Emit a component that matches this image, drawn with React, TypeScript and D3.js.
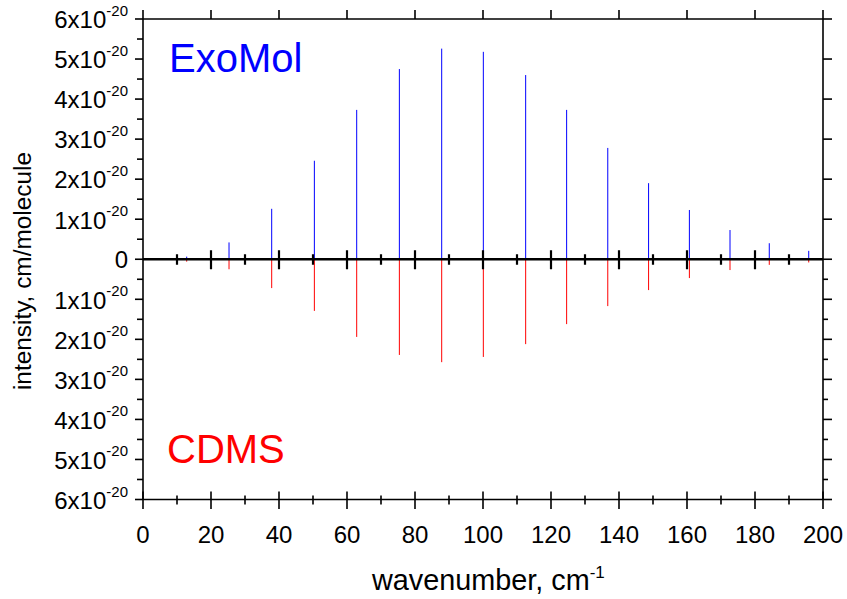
import React from "react";
import * as d3 from "d3";

const wavenumbers = [12.85, 25.3, 37.85, 50.4, 62.85, 75.4, 87.85, 100.1, 112.55, 124.6, 136.7, 148.7, 160.7, 172.65, 184.2, 195.8];
const exomol = [0.065, 0.42, 1.26, 2.46, 3.73, 4.75, 5.26, 5.18, 4.6, 3.73, 2.78, 1.9, 1.23, 0.73, 0.4, 0.21];
const cdms = [0.06, 0.25, 0.72, 1.29, 1.94, 2.39, 2.57, 2.44, 2.12, 1.62, 1.17, 0.77, 0.47, 0.27, 0.14, 0.08];
const xTicks = [0, 20, 40, 60, 80, 100, 120, 140, 160, 180, 200];
const xMinor = [10, 30, 50, 70, 90, 110, 130, 150, 170, 190];
const yTicks = [-6, -5, -4, -3, -2, -1, 0, 1, 2, 3, 4, 5, 6];
const yMinor = [-5.5, -4.5, -3.5, -2.5, -1.5, -0.5, 0.5, 1.5, 2.5, 3.5, 4.5, 5.5];

const FONT = "'Liberation Sans', Arial, sans-serif";

export default function App() {
  const W = 847, H = 599;
  const x = d3.scaleLinear().domain([0, 200]).range([143, 823]);
  const y = d3.scaleLinear().domain([-6, 6]).range([499.5, 19]);
  const y0 = y(0);
  const L = 143, R = 823, T = 19, B = 499.5;
  return (
    <svg width={W} height={H} style={{ position: "absolute", left: 0, top: 0, background: "#fff" }} fontFamily={FONT}>
      <rect x={0} y={0} width={W} height={H} fill="#fff" />
      {/* data lines */}
      {wavenumbers.map((w, i) => (
        <line key={"b" + i} x1={x(w)} x2={x(w)} y1={y0} y2={y(exomol[i])} stroke="#0000ff" strokeWidth={1} />
      ))}
      {wavenumbers.map((w, i) => (
        <line key={"r" + i} x1={x(w)} x2={x(w)} y1={y0} y2={y(-cdms[i])} stroke="#ff0000" strokeWidth={1} />
      ))}
      {/* frame */}
      <g stroke="#000" strokeWidth={1.6} fill="none">
        <line x1={L} x2={R} y1={T} y2={T} />
        <line x1={L} x2={R} y1={B} y2={B} />
        <line x1={L} x2={L} y1={T} y2={B} />
        <line x1={R} x2={R} y1={T} y2={B} />
        <line x1={L} x2={R} y1={y0} y2={y0} strokeWidth={2.4} />
      </g>
      {/* axis ticks */}
      <g stroke="#000" strokeWidth={1.6}>
        {yTicks.map((v) => <line key={"lt" + v} x1={L - 8} x2={L} y1={y(v)} y2={y(v)} />)}
        {yMinor.map((v) => <line key={"lm" + v} x1={L - 6} x2={L} y1={y(v)} y2={y(v)} />)}
        {yTicks.map((v) => <line key={"rt" + v} x1={R} x2={R + 9} y1={y(v)} y2={y(v)} />)}
        {yMinor.filter((v) => v < 0).map((v) => <line key={"rm" + v} x1={R} x2={R + 5} y1={y(v)} y2={y(v)} />)}
        {xTicks.map((v) => <line key={"tt" + v} x1={x(v)} x2={x(v)} y1={T - 9} y2={T} />)}
        {xTicks.map((v) => <line key={"bt" + v} x1={x(v)} x2={x(v)} y1={B - 8} y2={B + 9.5} />)}
        {xMinor.map((v) => <line key={"bm" + v} x1={x(v)} x2={x(v)} y1={B - 4} y2={B + 5} />)}
      </g>
      {/* zero line ticks */}
      <g stroke="#000" strokeWidth={2.2}>
        {xTicks.filter((v) => v > 0 && v < 200).map((v) => <line key={"zt" + v} x1={x(v)} x2={x(v)} y1={y0 - 9} y2={y0 + 10} />)}
        {xMinor.map((v) => <line key={"zm" + v} x1={x(v)} x2={x(v)} y1={y0 - 5} y2={y0 + 5.5} />)}
      </g>
      {/* y tick labels */}
      <g fontSize={24} fill="#000" textAnchor="end">
        {yTicks.map((v) =>
          v === 0 ? (
            <text key={"yl" + v} x={128} y={y(v) + 9}>0</text>
          ) : (
            <text key={"yl" + v} x={128} y={y(v) + 9.3}>
              {Math.abs(v) + "x10"}
              <tspan fontSize={15} dy={-12.3}>-20</tspan>
            </text>
          )
        )}
      </g>
      {/* x tick labels */}
      <g fontSize={24} fill="#000" textAnchor="middle">
        {xTicks.map((v) => (
          <text key={"xl" + v} x={x(v)} y={543.3}>{v}</text>
        ))}
      </g>
      {/* axis titles */}
      <text x={372} y={590} fontSize={28.8} fill="#000">
        wavenumber, cm<tspan fontSize={17} dy={-12.5}>-1</tspan>
      </text>
      <text transform="translate(31,271) rotate(-90)" fontSize={24.4} fill="#000" textAnchor="middle">
        intensity, cm/molecule
      </text>
      {/* labels */}
      <text x={169} y={72} fontSize={40} fill="#0000ff">ExoMol</text>
      <text x={167} y={463} fontSize={40} fill="#ff0000">CDMS</text>
    </svg>
  );
}
